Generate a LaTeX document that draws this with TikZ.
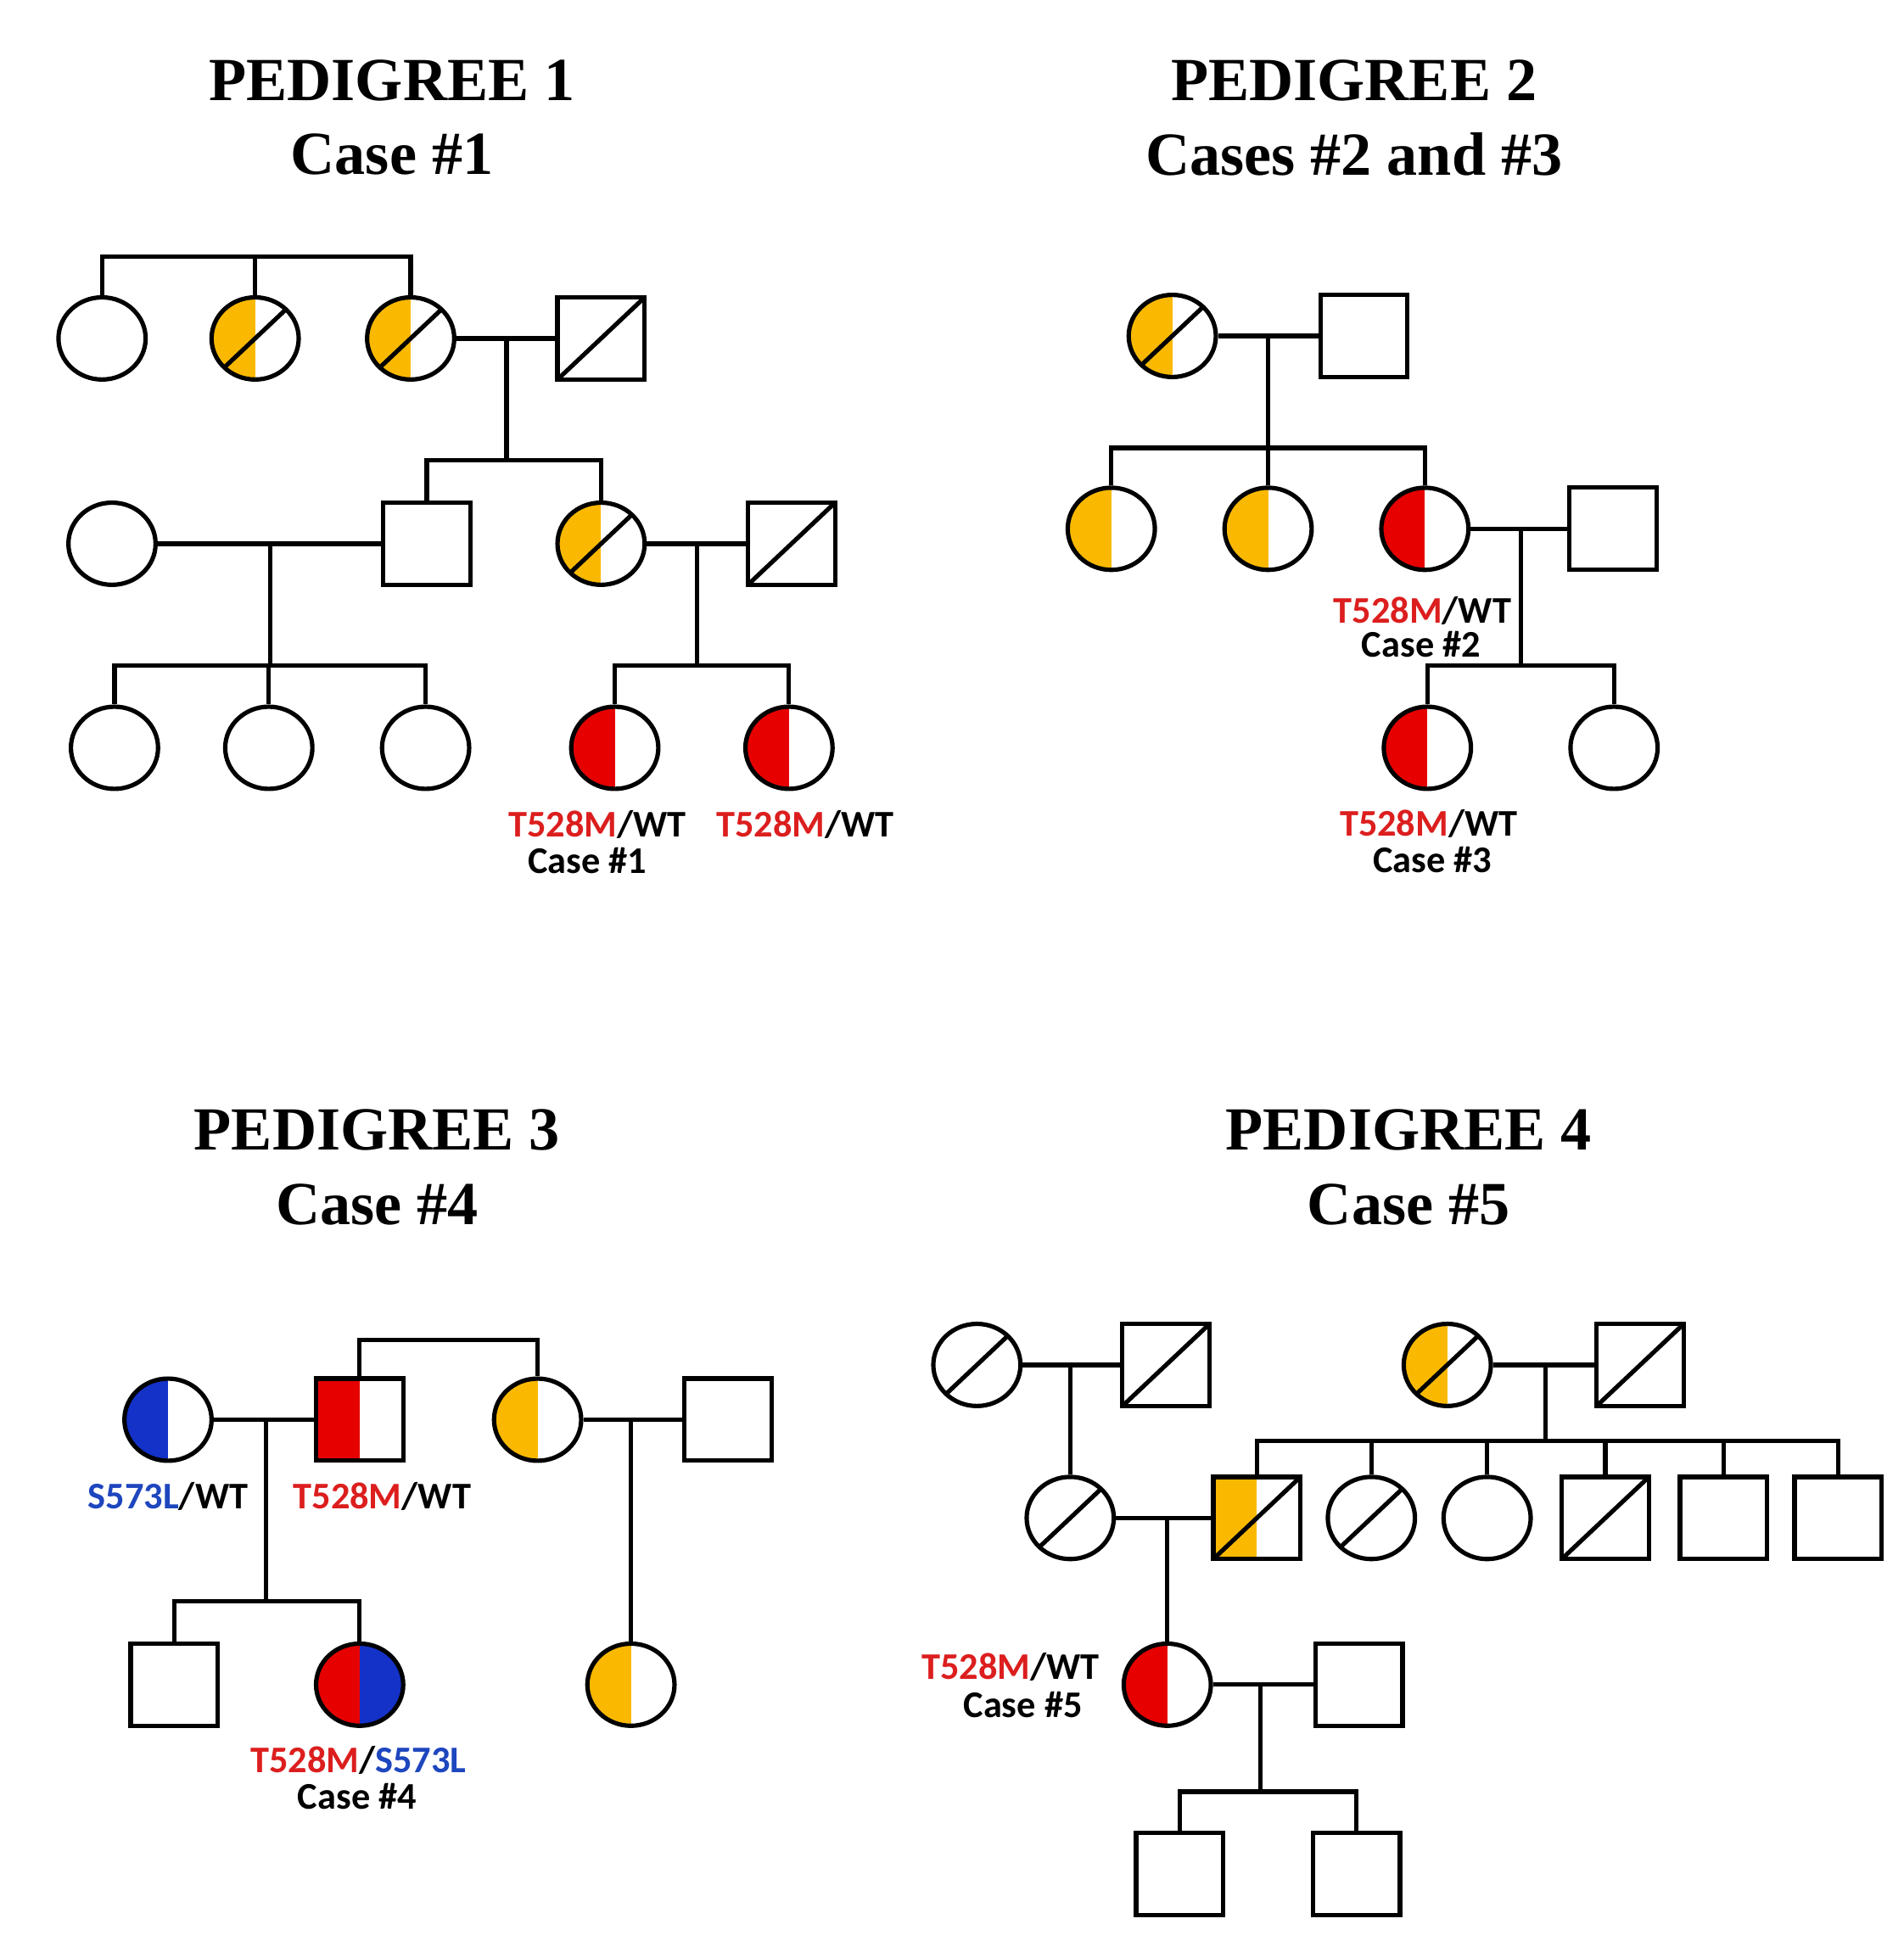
\documentclass[tikz,border=0pt]{standalone}
\usepackage{fontspec}
\setmainfont{Liberation Serif}
\newfontfamily\lab{Carlito}
\usetikzlibrary{shapes.geometric}
\definecolor{yel}{RGB}{250,185,0}
\definecolor{rd}{RGB}{230,0,0}
\definecolor{bl}{RGB}{20,50,200}
\definecolor{lr}{RGB}{220,30,30}
\definecolor{lb}{RGB}{30,70,190}
\begin{document}
\begin{tikzpicture}[x=0.01cm,y=-0.01cm,line width=1pt,
 F/.style={ellipse,draw,minimum width=0.70cm,minimum height=0.66cm,inner sep=0pt},
 M/.style={rectangle,draw,minimum width=0.70cm,minimum height=0.66cm,inner sep=0pt},
 H/.style={path picture={\fill[#1] (path picture bounding box.south west) rectangle (path picture bounding box.north);}},
 D/.style={path picture={\draw (path picture bounding box.south west) -- (path picture bounding box.north east);}},
 HD/.style={path picture={\fill[#1] (path picture bounding box.south west) rectangle (path picture bounding box.north);\draw (path picture bounding box.south west) -- (path picture bounding box.north east);}},
 RB/.style={path picture={\fill[rd] (path picture bounding box.south west) rectangle (path picture bounding box.north);\fill[bl] (path picture bounding box.south) rectangle (path picture bounding box.north east);}},
 T/.style={font=\bfseries\fontsize{14}{16}\selectfont},
 L/.style={font=\lab\bfseries\fontsize{8.6}{10}\selectfont,inner sep=0pt}]
\useasboundingbox (0,0) rectangle (1530,1560);
% titles
\node[T] (t1) at (315,65) {PEDIGREE 1}; \node[T] (t1b) at (315,124) {Case \#1};
\node[T] (t2) at (1088,65) {PEDIGREE 2}; \node[T] (t2b) at (1088,124) {Cases \#2 and \#3};
\node[T] (t3) at (303,908) {PEDIGREE 3}; \node[T] (t3b) at (303,968) {Case \#4};
\node[T] (t4) at (1132,908) {PEDIGREE 4}; \node[T] (t4b) at (1132,968) {Case \#5};
% ===== Pedigree 1
\node[F] (a1) at (82,272) {};
\node[F,HD=yel] (a2) at (205,272) {};
\node[F,HD=yel] (a3) at (330,272) {};
\node[M,D] (a4) at (483,272) {};
\draw (a1.north) -- (82,206) -| (a3.north); \draw (205,206) -- (a2.north);
\draw (a3.east) -- (a4.west);
\coordinate (m1) at (407,272); \coordinate (s1) at (407,370);
\node[F] (b1) at (90,437) {};
\node[M] (b2) at (343,437) {};
\node[F,HD=yel] (b3) at (483,437) {};
\node[M,D] (b4) at (636,437) {};
\draw (m1) -- (s1); \draw (b2.north) |- (s1) -| (b3.north);
\draw (b1.east) -- (b2.west); \draw (b3.east) -- (b4.west);
\coordinate (m2) at (217,437); \coordinate (s2) at (217,535);
\coordinate (m3) at (560,437); \coordinate (s3) at (560,535);
\node[F] (c1) at (92,601) {}; \node[F] (c2) at (216,601) {}; \node[F] (c3) at (342,601) {};
\node[F,H=rd] (c4) at (494,601) {}; \node[F,H=rd] (c5) at (634,601) {};
\draw (m2) -- (s2); \draw (c1.north) |- (c3.north |- s2) -- (c3.north); \draw (c2.north) -- (c2.north |- s2);
\draw (m3) -- (s3); \draw (c4.north) |- (c5.north |- s3) -- (c5.north);
\node[L] (l1) at (480,663) {\textcolor{lr}{T528M}/WT}; \node[L] (l1b) at (472,692) {Case \#1};
\node[L] (l2) at (647,663) {\textcolor{lr}{T528M}/WT};
% ===== Pedigree 2
\node[F,HD=yel] (d1) at (942,270) {}; \node[M] (d2) at (1096,270) {};
\draw (d1.east) -- (d2.west);
\coordinate (m4) at (1019,270); \coordinate (s4) at (1019,360);
\node[F,H=yel] (e1) at (893,425) {}; \node[F,H=yel] (e2) at (1019,425) {};
\node[F,H=rd] (e3) at (1145,425) {}; \node[M] (e4) at (1296,425) {};
\draw (m4) -- (e2.north); \draw (e1.north) |- (e3.north |- s4) -- (e3.north);
\draw (e3.east) -- (e4.west);
\coordinate (m5) at (1222,425); \coordinate (s5) at (1222,535);
\node[F,H=rd] (f1) at (1147,601) {}; \node[F] (f2) at (1297,601) {};
\draw (m5) -- (s5); \draw (f1.north) |- (f2.north |- s5) -- (f2.north);
\node[L] (l3) at (1143,491) {\textcolor{lr}{T528M}/WT}; \node[L] (l3b) at (1142,518) {Case \#2};
\node[L] (l4) at (1148,662) {\textcolor{lr}{T528M}/WT}; \node[L] (l4b) at (1151,691) {Case \#3};
% ===== Pedigree 3
\node[F,H=bl] (g1) at (135,1141) {}; \node[M,H=rd] (g2) at (289,1141) {};
\node[F,H=yel] (g3) at (432,1141) {}; \node[M] (g4) at (585,1141) {};
\draw (g2.north) |- (432,1077) -- (g3.north);
\draw (g1.east) -- (g2.west); \draw (g3.east) -- (g4.west);
\coordinate (m6) at (214,1141); \coordinate (s6) at (214,1287);
\coordinate (m7) at (507,1141);
\node[M] (h1) at (140,1354) {}; \node[F,RB] (h2) at (289,1354) {};
\node[F,H=yel] (h3) at (507,1354) {};
\draw (m6) -- (s6); \draw (h1.north) |- (h2.north |- s6) -- (h2.north);
\draw (m7) -- (h3.north);
\node[L] (l5) at (135,1203) {\textcolor{lb}{S573L}/WT}; \node[L] (l6) at (307,1203) {\textcolor{lr}{T528M}/WT};
\node[L] (l7) at (288,1415) {\textcolor{lr}{T528M}/\textcolor{lb}{S573L}}; \node[L] (l7b) at (287,1444) {Case \#4};
% ===== Pedigree 4
\node[F,D] (i1) at (785,1097) {}; \node[M,D] (i2) at (937,1097) {};
\node[F,HD=yel] (i3) at (1163,1097) {}; \node[M,D] (i4) at (1318,1097) {};
\draw (i1.east) -- (i2.west); \draw (i3.east) -- (i4.west);
\coordinate (m8) at (860,1097); \coordinate (m9) at (1242,1097); \coordinate (s9) at (1242,1158);
\node[F,D] (j1) at (860,1220) {};
\node[M,HD=yel] (j2) at (1010,1220) {};
\node[F,D] (j3) at (1102,1220) {};
\node[F] (j4) at (1195,1220) {};
\node[M,D] (j5) at (1290,1220) {};
\node[M] (j6) at (1385,1220) {};
\node[M] (j7) at (1477,1220) {};
\draw (m8) -- (j1.north); \draw (m9) -- (s9);
\draw (j2.north) |- (j7.north |- s9) -- (j7.north);
\foreach \n in {j3,j4,j5,j6} \draw (\n.north) -- (\n.north |- s9);
\draw (j1.east) -- (j2.west);
\coordinate (m10) at (938,1220);
\node[F,H=rd] (k1) at (938,1354) {}; \node[M] (k2) at (1092,1354) {};
\draw (m10) -- (k1.north); \draw (k1.east) -- (k2.west);
\coordinate (m11) at (1013,1354); \coordinate (s11) at (1013,1440);
\node[M] (n1) at (948,1506) {}; \node[M] (n2) at (1090,1506) {};
\draw (m11) -- (s11); \draw (n1.north) |- (n2.north |- s11) -- (n2.north);
\node[L] (l8) at (812,1340) {\textcolor{lr}{T528M}/WT}; \node[L] (l8b) at (822,1370) {Case \#5};
\end{tikzpicture}
\end{document}
